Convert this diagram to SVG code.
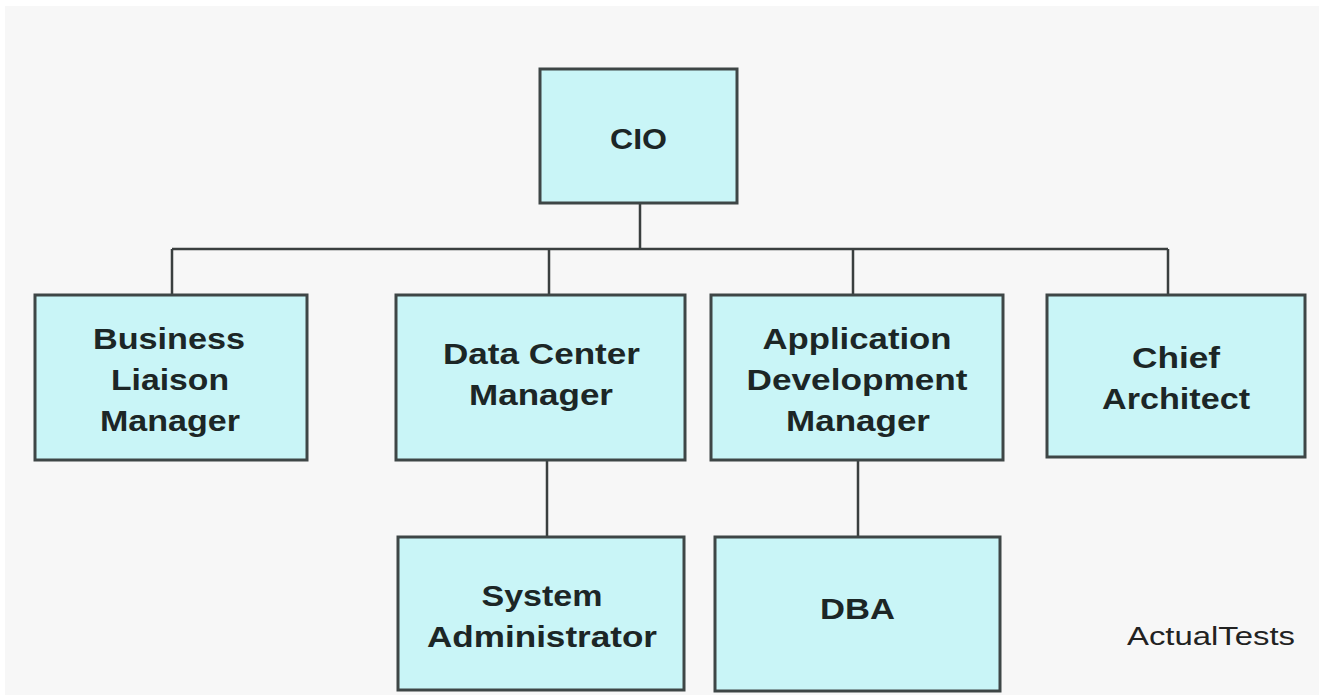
<svg xmlns="http://www.w3.org/2000/svg" width="1319" height="695" viewBox="0 0 1319 695">
<style>
.box{fill:#c9f5f7;stroke:#3e4646;stroke-width:3}
.lbl{font-family:"Liberation Sans",Arial,sans-serif;font-weight:bold;font-size:29px;fill:#1c2626;text-anchor:middle}
.wm{font-family:"Liberation Sans",Arial,sans-serif;font-size:26px;fill:#222;text-anchor:middle}
.conn{stroke:#3a3f3f;stroke-width:2.5;fill:none}
</style>
<rect x="0" y="0" width="1319" height="695" fill="#ffffff"/>
<rect x="5" y="6" width="1314" height="689" fill="#f7f7f7"/>
<g id="connectors">
<path class="conn" d="M640 203V249M172 249H1168M172 249V295M549 249V295M853 249V295M1168 249V295M547 460V537M858 460V537"/>
</g>
<g id="cio">
<rect class="box" x="540" y="69" width="197" height="134"/>
<text class="lbl" x="638.5" y="148.5" textLength="57" lengthAdjust="spacingAndGlyphs">CIO</text>
</g>
<g id="business-liaison-manager">
<rect class="box" x="35" y="295" width="272" height="165"/>
<text class="lbl" x="169" y="348.5" textLength="152" lengthAdjust="spacingAndGlyphs">Business</text>
<text class="lbl" x="170" y="389.5" textLength="118" lengthAdjust="spacingAndGlyphs">Liaison</text>
<text class="lbl" x="170" y="430.5" textLength="140" lengthAdjust="spacingAndGlyphs">Manager</text>
</g>
<g id="data-center-manager">
<rect class="box" x="396" y="295" width="289" height="165"/>
<text class="lbl" x="541.5" y="363.5" textLength="197" lengthAdjust="spacingAndGlyphs">Data Center</text>
<text class="lbl" x="541" y="404.5" textLength="144" lengthAdjust="spacingAndGlyphs">Manager</text>
</g>
<g id="application-development-manager">
<rect class="box" x="711" y="295" width="292" height="165"/>
<text class="lbl" x="857" y="348.5" textLength="189" lengthAdjust="spacingAndGlyphs">Application</text>
<text class="lbl" x="857" y="389.5" textLength="221" lengthAdjust="spacingAndGlyphs">Development</text>
<text class="lbl" x="858" y="430.5" textLength="144" lengthAdjust="spacingAndGlyphs">Manager</text>
</g>
<g id="chief-architect">
<rect class="box" x="1047" y="295" width="258" height="162"/>
<text class="lbl" x="1176" y="367.5" textLength="88" lengthAdjust="spacingAndGlyphs">Chief</text>
<text class="lbl" x="1176" y="408.5" textLength="148" lengthAdjust="spacingAndGlyphs">Architect</text>
</g>
<g id="system-administrator">
<rect class="box" x="398" y="537" width="286" height="153"/>
<text class="lbl" x="542" y="605.5" textLength="121" lengthAdjust="spacingAndGlyphs">System</text>
<text class="lbl" x="542" y="646.5" textLength="230" lengthAdjust="spacingAndGlyphs">Administrator</text>
</g>
<g id="dba">
<rect class="box" x="715" y="537" width="285" height="154"/>
<text class="lbl" x="857.5" y="618.5" textLength="75" lengthAdjust="spacingAndGlyphs">DBA</text>
</g>
<text class="wm" x="1211" y="645" textLength="168" lengthAdjust="spacingAndGlyphs">ActualTests</text>
</svg>
